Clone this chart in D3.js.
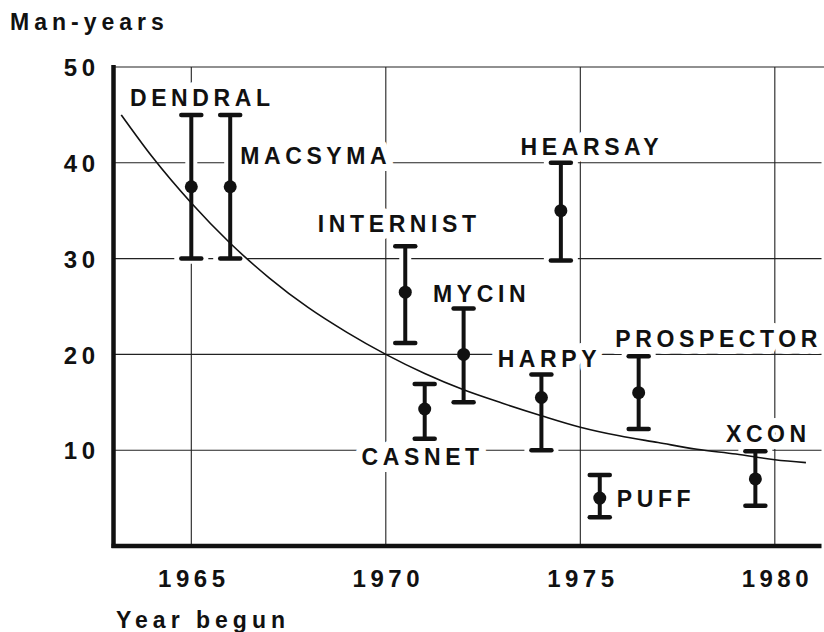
<!DOCTYPE html>
<html>
<head>
<meta charset="utf-8">
<script src="https://cdn.jsdelivr.net/npm/d3@7"></script>
<style>
  html, body { margin: 0; padding: 0; background: #fff; }
  svg { display: block; }
  text { font-family: "Liberation Sans", Arial, sans-serif; font-weight: bold; fill: #111; }
</style>
</head>
<body>
<div id="chart"></div>
<script>
// expert systems: year begun vs. man-years of effort (point + range)
const systems = ['DENDRAL', 'MACSYMA', 'INTERNIST', 'CASNET', 'MYCIN', 'HARPY', 'HEARSAY', 'PUFF', 'PROSPECTOR', 'XCON']
const yearBegun = [1965, 1966, 1970.5, 1971, 1972, 1974, 1974.5, 1975.5, 1976.5, 1979.5]
const manYears = [37.5, 37.5, 26.5, 14.3, 20, 15.5, 35, 5, 16, 7]
const lowEst = [30, 30, 21.2, 11.2, 15, 10, 29.8, 3, 12.2, 4.2]
const highEst = [45, 45, 31.3, 16.9, 24.8, 17.9, 40, 7.4, 19.8, 9.9]

// hand-drawn trend curve
const trendYears = [1963.2, 1964, 1965, 1966, 1967, 1968, 1969, 1970, 1971, 1972, 1973, 1974, 1975, 1976, 1977, 1978, 1979, 1980, 1980.8]
const trendValues = [45, 40.6, 35.8, 31.6, 28.0, 24.9, 22.3, 20.0, 18.0, 16.3, 14.9, 13.6, 12.4, 11.5, 10.8, 10.1, 9.6, 9.0, 8.7]

const yTicks = [10, 20, 30, 40, 50]
const xTicks = [1965, 1970, 1975, 1980]

// label placement relative to each point (pixels)
const labelLayout = {
  DENDRAL: { anchor: 'middle', dx: 11, dy: -81 },
  MACSYMA: { anchor: 'start', dx: 10, dy: -23 },
  INTERNIST: { anchor: 'middle', dx: -6, dy: -60 },
  CASNET: { anchor: 'middle', dx: -2, dy: 56 },
  MYCIN: { anchor: 'middle', dx: 18, dy: -52 },
  HARPY: { anchor: 'middle', dx: 8, dy: -31 },
  HEARSAY: { anchor: 'middle', dx: 31, dy: -56 },
  PUFF: { anchor: 'start', dx: 17, dy: 9 },
  PROSPECTOR: { anchor: 'middle', dx: 80, dy: -46 },
  XCON: { anchor: 'middle', dx: 13, dy: -37 },
}

const W = 824
const H = 632
const plotLeft = 113.5
const plotRight = 821.5
const plotTop = 67
const plotBottom = 546

const x = d3.scaleLinear().domain([1963, 1981.2]).range([plotLeft, plotRight])
const y = d3.scaleLinear().domain([0, 50]).range([plotBottom, plotTop])

const rows = systems.map((name, i) => ({
  name, year: yearBegun[i], v: manYears[i], lo: lowEst[i], hi: highEst[i],
}))

const svg = d3.select('#chart').append('svg')
  .attr('width', W)
  .attr('height', H)

// grid
const grid = svg.append('g').attr('stroke', '#222').attr('stroke-width', 1.1)
grid.selectAll('line.h').data(yTicks).enter().append('line')
  .attr('x1', plotLeft).attr('x2', d => d === 50 ? W : plotRight)
  .attr('y1', d => y(d)).attr('y2', d => y(d))
grid.selectAll('line.v').data(xTicks).enter().append('line')
  .attr('x1', d => x(d)).attr('x2', d => x(d))
  .attr('y1', plotTop).attr('y2', plotBottom)

// white halos so grid breaks around marks and labels
const halo = svg.append('g').attr('stroke', '#fff').attr('fill', '#fff')
halo.selectAll('line.bar').data(rows).enter().append('line')
  .attr('x1', d => x(d.year)).attr('x2', d => x(d.year))
  .attr('y1', d => y(d.lo) + 5).attr('y2', d => y(d.hi) - 5)
  .attr('stroke-width', 12)
halo.selectAll('line.cap').data(rows.flatMap(d => [d.lo, d.hi].map(v => ({ d, v })))).enter().append('line')
  .attr('x1', e => x(e.d.year) - 17).attr('x2', e => x(e.d.year) + 17)
  .attr('y1', e => y(e.v)).attr('y2', e => y(e.v))
  .attr('stroke-width', 10)

const labelPos = d => {
  const l = labelLayout[d.name]
  return [x(d.year) + l.dx, y(d.v) + l.dy]
}

halo.selectAll('text').data(rows).enter().append('text')
  .attr('x', d => labelPos(d)[0])
  .attr('y', d => labelPos(d)[1])
  .attr('text-anchor', d => labelLayout[d.name].anchor)
  .attr('font-size', 23)
  .attr('letter-spacing', 4.6)
  .attr('stroke-width', 14)
  .attr('stroke-linejoin', 'round')
  .style('fill', '#fff')
  .text(d => d.name)

// trend curve
const line = d3.line()
  .x(yr => x(yr))
  .y((yr, i) => y(trendValues[i]))
  .curve(d3.curveMonotoneX)

svg.append('path')
  .datum(trendYears)
  .attr('d', line)
  .attr('fill', 'none')
  .attr('stroke', '#111')
  .attr('stroke-width', 1.6)

// error bars
const bars = svg.append('g').attr('stroke', '#111').attr('fill', '#111')
bars.selectAll('line.v').data(rows).enter().append('line')
  .attr('x1', d => x(d.year)).attr('x2', d => x(d.year))
  .attr('y1', d => y(d.lo)).attr('y2', d => y(d.hi))
  .attr('stroke-width', 4)
bars.selectAll('line.cap').data(rows.flatMap(d => [d.lo, d.hi].map(v => ({ d, v })))).enter().append('line')
  .attr('x1', e => x(e.d.year) - 10).attr('x2', e => x(e.d.year) + 10)
  .attr('y1', e => y(e.v)).attr('y2', e => y(e.v))
  .attr('stroke-width', 4.5)
  .attr('stroke-linecap', 'round')
bars.selectAll('circle').data(rows).enter().append('circle')
  .attr('cx', d => x(d.year)).attr('cy', d => y(d.v))
  .attr('r', 6.5)
  .attr('stroke', 'none')

// labels
svg.append('g').selectAll('text').data(rows).enter().append('text')
  .attr('x', d => labelPos(d)[0])
  .attr('y', d => labelPos(d)[1])
  .attr('text-anchor', d => labelLayout[d.name].anchor)
  .attr('font-size', 23)
  .attr('letter-spacing', 4.6)
  .text(d => d.name)

// axes: thick left and bottom lines, labels only
svg.append('line')
  .attr('x1', plotLeft).attr('x2', plotLeft).attr('y1', plotTop - 2).attr('y2', plotBottom + 2)
  .attr('stroke', '#111').attr('stroke-width', 4.5)
svg.append('line')
  .attr('x1', plotLeft - 2).attr('x2', plotRight).attr('y1', plotBottom).attr('y2', plotBottom)
  .attr('stroke', '#111').attr('stroke-width', 4.5)

const tickStyle = g => g.selectAll('text')
  .attr('font-size', 24)
  .attr('letter-spacing', 4.5)
  .style('font-family', '"Liberation Sans", Arial, sans-serif')
  .style('font-weight', 'bold')
  .style('fill', '#111')

const yAxis = d3.axisLeft(y).tickValues(yTicks).tickSize(0).tickPadding(14)
svg.append('g')
  .attr('transform', `translate(${plotLeft},0)`)
  .call(yAxis)
  .call(g => g.select('.domain').remove())
  .call(tickStyle)
  .call(g => g.selectAll('text').attr('dy', '0.36em'))

const xAxis = d3.axisBottom(x).tickValues(xTicks).tickFormat(d3.format('d')).tickSize(0).tickPadding(24)
svg.append('g')
  .attr('transform', `translate(2,${plotBottom})`)
  .call(xAxis)
  .call(g => g.select('.domain').remove())
  .call(tickStyle)

svg.append('text')
  .attr('x', 10).attr('y', 30)
  .attr('font-size', 23)
  .attr('letter-spacing', 5)
  .text('Man-years')

svg.append('text')
  .attr('x', 116).attr('y', 628)
  .attr('font-size', 23)
  .attr('letter-spacing', 5)
  .text('Year begun')
</script>
</body>
</html>
